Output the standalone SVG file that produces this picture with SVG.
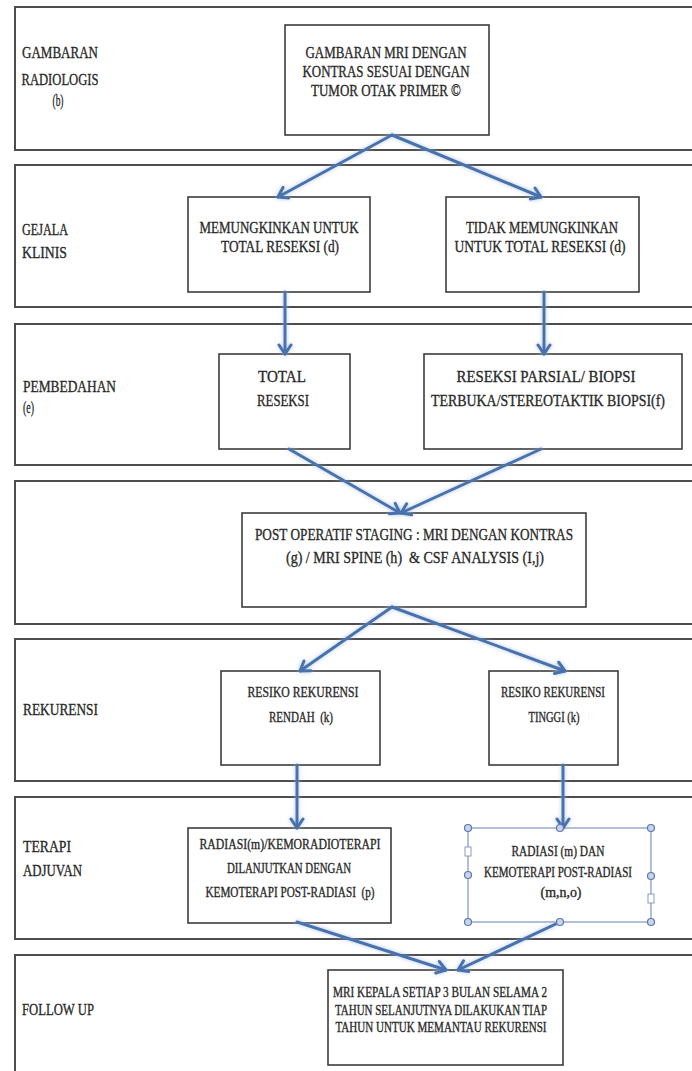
<svg xmlns="http://www.w3.org/2000/svg" width="692" height="1071" viewBox="0 0 692 1071">
<style>
.lane{fill:#fff;stroke:#4d4d4d;stroke-width:2}
.box{fill:#fff;stroke:#3c3c3c;stroke-width:1.6}
.sel{fill:#fff;stroke:#7f95bf;stroke-width:1.2}
.t{font-family:"Liberation Serif","DejaVu Serif",serif;fill:#2a2a2a;stroke:#2a2a2a;stroke-width:0.35;text-anchor:middle;font-size:17px}
.s{font-size:14px}
.lb{font-family:"Liberation Serif","DejaVu Serif",serif;fill:#2a2a2a;stroke:#2a2a2a;stroke-width:0.35;font-size:17px}
.c{fill:none;stroke:#4672ad;stroke-width:3;stroke-linecap:round}
.h{fill:#c9d3ea;stroke:#5b78ad;stroke-width:1.2}
.hs{fill:#fff;stroke:#8a9bbd;stroke-width:1}
</style>
<defs>
<marker id="ah" markerUnits="userSpaceOnUse" markerWidth="16" markerHeight="16" viewBox="0 0 16 16" refX="12" refY="8" orient="auto">
<path d="M3,2 L12,8 L3,14" fill="none" stroke="#4672ad" stroke-width="3" stroke-linecap="round" stroke-linejoin="round"/>
</marker>
<filter id="glow" filterUnits="userSpaceOnUse" x="0" y="0" width="692" height="1071">
<feGaussianBlur in="SourceAlpha" stdDeviation="2.2" result="b"/>
<feFlood flood-color="#9db6dc" flood-opacity="0.8"/>
<feComposite in2="b" operator="in"/>
<feMerge><feMergeNode/><feMergeNode in="SourceGraphic"/></feMerge>
</filter>
</defs>
<rect width="692" height="1071" fill="#fff"/>
<g id="lanes">
<rect class="lane" x="15" y="7" width="700" height="143"/>
<rect class="lane" x="15" y="165" width="700" height="142"/>
<rect class="lane" x="15" y="324" width="700" height="141"/>
<rect class="lane" x="15" y="481" width="700" height="143"/>
<rect class="lane" x="15" y="639" width="700" height="142"/>
<rect class="lane" x="15" y="797" width="700" height="142"/>
<rect class="lane" x="15" y="955" width="700" height="130"/>
</g>
<g id="labels">
<text class="lb" text-anchor="middle" x="60" y="58" textLength="76" lengthAdjust="spacingAndGlyphs">GAMBARAN</text>
<text class="lb" text-anchor="middle" x="60" y="85" textLength="77" lengthAdjust="spacingAndGlyphs">RADIOLOGIS</text>
<text class="lb" text-anchor="middle" x="58" y="106" textLength="11" lengthAdjust="spacingAndGlyphs">(b)</text>
<text class="lb" x="22" y="235" textLength="46" lengthAdjust="spacingAndGlyphs">GEJALA</text>
<text class="lb" x="22" y="258" textLength="45" lengthAdjust="spacingAndGlyphs">KLINIS</text>
<text class="lb" x="23" y="392" textLength="93" lengthAdjust="spacingAndGlyphs">PEMBEDAHAN</text>
<text class="lb" x="23" y="413" textLength="11" lengthAdjust="spacingAndGlyphs">(e)</text>
<text class="lb" x="23" y="715" textLength="75" lengthAdjust="spacingAndGlyphs">REKURENSI</text>
<text class="lb" x="23" y="852" textLength="48" lengthAdjust="spacingAndGlyphs">TERAPI</text>
<text class="lb" x="23" y="876" textLength="59" lengthAdjust="spacingAndGlyphs">ADJUVAN</text>
<text class="lb" x="22" y="1015" textLength="72" lengthAdjust="spacingAndGlyphs">FOLLOW UP</text>
</g>
<g id="n1">
<rect class="box" x="285" y="25" width="204" height="110"/>
<text class="t" x="386" y="58" textLength="161" lengthAdjust="spacingAndGlyphs">GAMBARAN MRI DENGAN</text>
<text class="t" x="386" y="77" textLength="167" lengthAdjust="spacingAndGlyphs">KONTRAS SESUAI DENGAN</text>
<text class="t" x="386" y="96" textLength="150" lengthAdjust="spacingAndGlyphs">TUMOR OTAK PRIMER ©</text>
</g>
<g id="n2">
<rect class="box" x="188" y="197" width="182" height="95"/>
<text class="t" x="279" y="233" textLength="159" lengthAdjust="spacingAndGlyphs">MEMUNGKINKAN UNTUK</text>
<text class="t" x="280" y="252" textLength="118" lengthAdjust="spacingAndGlyphs">TOTAL RESEKSI (d)</text>
</g>
<g id="n3">
<rect class="box" x="446" y="197" width="193" height="95"/>
<text class="t" x="542" y="233" textLength="152" lengthAdjust="spacingAndGlyphs">TIDAK MEMUNGKINKAN</text>
<text class="t" x="540" y="252" textLength="171" lengthAdjust="spacingAndGlyphs">UNTUK TOTAL RESEKSI (d)</text>
</g>
<g id="n4">
<rect class="box" x="219" y="354" width="131" height="95"/>
<text class="t" x="282" y="382" textLength="48" lengthAdjust="spacingAndGlyphs">TOTAL</text>
<text class="t" x="283" y="406" textLength="52" lengthAdjust="spacingAndGlyphs">RESEKSI</text>
</g>
<g id="n5">
<rect class="box" x="424" y="354" width="258" height="95"/>
<text class="t" x="546" y="382" textLength="179" lengthAdjust="spacingAndGlyphs">RESEKSI PARSIAL/ BIOPSI</text>
<text class="t" x="548" y="406" textLength="234" lengthAdjust="spacingAndGlyphs">TERBUKA/STEREOTAKTIK BIOPSI(f)</text>
</g>
<g id="n6">
<rect class="box" x="242" y="513" width="344" height="94"/>
<text class="t" x="414" y="540" textLength="318" lengthAdjust="spacingAndGlyphs">POST OPERATIF STAGING : MRI DENGAN KONTRAS</text>
<text class="t" x="415" y="563" textLength="258" lengthAdjust="spacingAndGlyphs" xml:space="preserve">(g) / MRI SPINE (h)  &amp; CSF ANALYSIS (I,j)</text>
</g>
<g id="n7">
<rect class="box" x="221" y="671" width="159" height="94"/>
<text class="t s" x="303" y="697" textLength="111" lengthAdjust="spacingAndGlyphs">RESIKO REKURENSI</text>
<text class="t s" x="301" y="722" textLength="64" lengthAdjust="spacingAndGlyphs" xml:space="preserve">RENDAH  (k)</text>
</g>
<g id="n8">
<rect class="box" x="489" y="671" width="129" height="94"/>
<text class="t s" x="553" y="697" textLength="104" lengthAdjust="spacingAndGlyphs">RESIKO REKURENSI</text>
<text class="t s" x="554" y="722" textLength="51" lengthAdjust="spacingAndGlyphs">TINGGI (k)</text>
</g>
<g id="n9">
<rect class="box" x="188" y="828" width="203" height="95"/>
<text class="t s" x="290" y="849" textLength="181" lengthAdjust="spacingAndGlyphs">RADIASI(m)/KEMORADIOTERAPI</text>
<text class="t s" x="289" y="873" textLength="124" lengthAdjust="spacingAndGlyphs">DILANJUTKAN DENGAN</text>
<text class="t s" x="290" y="897" textLength="169" lengthAdjust="spacingAndGlyphs" xml:space="preserve">KEMOTERAPI POST-RADIASI  (p)</text>
</g>
<g id="n10">
<rect class="sel" x="468" y="828" width="183" height="94"/>
<text class="t s" x="558" y="856" textLength="93" lengthAdjust="spacingAndGlyphs">RADIASI (m) DAN</text>
<text class="t s" x="558" y="877" textLength="148" lengthAdjust="spacingAndGlyphs">KEMOTERAPI POST-RADIASI</text>
<text class="t s" x="561" y="897" textLength="41" lengthAdjust="spacingAndGlyphs">(m,n,o)</text>
</g>
<g id="n11">
<rect class="box" x="328" y="970" width="235" height="95"/>
<text class="t s" x="440" y="997" textLength="214" lengthAdjust="spacingAndGlyphs">MRI KEPALA SETIAP 3 BULAN SELAMA 2</text>
<text class="t s" x="441" y="1015" textLength="212" lengthAdjust="spacingAndGlyphs">TAHUN SELANJUTNYA DILAKUKAN TIAP</text>
<text class="t s" x="441" y="1032" textLength="211" lengthAdjust="spacingAndGlyphs">TAHUN UNTUK MEMANTAU REKURENSI</text>
</g>
<g id="connectors" filter="url(#glow)">
<path class="c" marker-end="url(#ah)" d="M392,135 L278,197"/>
<path class="c" marker-end="url(#ah)" d="M392,135 L541,197"/>
<path class="c" marker-end="url(#ah)" d="M285,292 L285,354"/>
<path class="c" marker-end="url(#ah)" d="M544,292 L544,354"/>
<path class="c" marker-end="url(#ah)" d="M289,449 L400,513"/>
<path class="c" marker-end="url(#ah)" d="M541,449 L401,513"/>
<path class="c" marker-end="url(#ah)" d="M392,607 L300,671"/>
<path class="c" marker-end="url(#ah)" d="M392,607 L565,671"/>
<path class="c" marker-end="url(#ah)" d="M297,765 L297,828"/>
<path class="c" marker-end="url(#ah)" d="M563,765 L563,828"/>
<path class="c" marker-end="url(#ah)" d="M297,922 L446,970"/>
<path class="c" marker-end="url(#ah)" d="M560,922 L458,970"/>
</g>
<g id="handles">
<circle class="h" cx="468" cy="828" r="3.5"/>
<circle class="h" cx="560" cy="828" r="3.5"/>
<circle class="h" cx="651" cy="828" r="3.5"/>
<circle class="h" cx="468" cy="875" r="3.5"/>
<circle class="h" cx="651" cy="876" r="3.5"/>
<circle class="h" cx="468" cy="922" r="3.5"/>
<circle class="h" cx="560" cy="922" r="3.5"/>
<circle class="h" cx="651" cy="922" r="3.5"/>
<rect class="hs" x="465" y="847" width="6" height="9"/>
<rect class="hs" x="648" y="894" width="6" height="9"/>
</g>
</svg>
